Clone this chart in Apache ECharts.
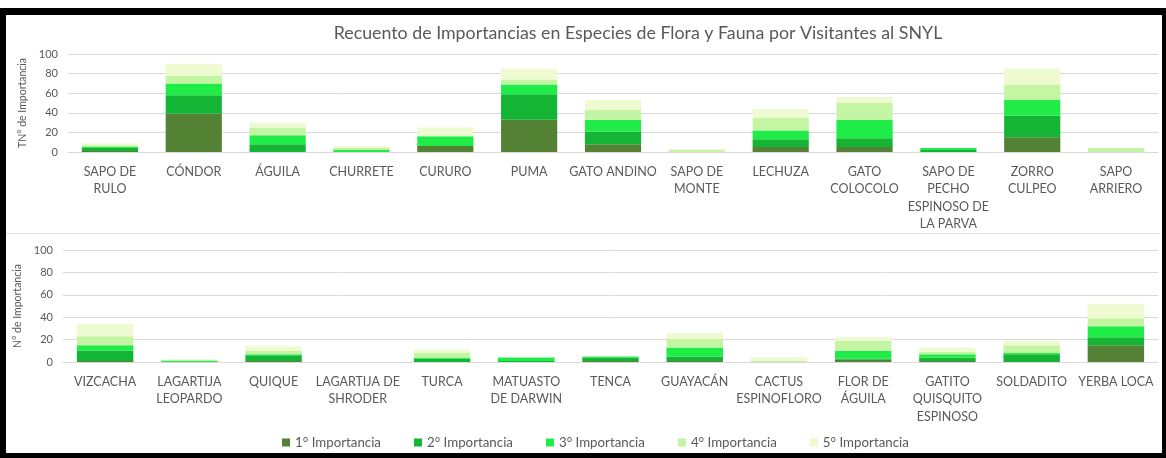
<!DOCTYPE html>
<html>
<head>
<meta charset="utf-8">
<script src="https://cdn.jsdelivr.net/npm/echarts@6/dist/echarts.min.js"></script>
<style>
html,body{margin:0;padding:0;background:#fff;}
#c{width:1166px;height:458px;}
</style>
</head>
<body>
<div id="c"></div>
<script>
const titleText = 'Recuento de Importancias en Especies de Flora y Fauna por Visitantes al SNYL';
const seriesNames = ['1° Importancia','2° Importancia','3° Importancia','4° Importancia','5° Importancia'];
const colors = ['#548235','#14b534','#20ec48','#c3f5a3','#eefad0'];

const topCategories = ['SAPO DE\nRULO','CÓNDOR','ÁGUILA','CHURRETE','CURURO','PUMA','GATO ANDINO','SAPO DE\nMONTE','LECHUZA','GATO\nCOLOCOLO','SAPO DE\nPECHO\nESPINOSO DE\nLA PARVA','ZORRO\nCULPEO','SAPO\nARRIERO'];
const top1 = [1,39,0,0,6,33,8,0,5,5,0,15,0];
const top2 = [3,19,8,0,0,26,13,0,8,9,2,22,0];
const top3 = [1,12,9,2,10,10,12,0,9,19,2,16,0];
const top4 = [2,8,8,2,0,5,10,2,13,17,0,16,4];
const top5 = [2,12,5,2,9,11,10,1,9,6,0,16,0];

const botCategories = ['VIZCACHA','LAGARTIJA\nLEOPARDO','QUIQUE','LAGARTIJA DE\nSHRODER','TURCA','MATUASTO\nDE DARWIN','TENCA','GUAYACÁN','CACTUS\nESPINOFLORO','FLOR DE\nÁGUILA','GATITO\nQUISQUITO\nESPINOSO','SOLDADITO','YERBA LOCA'];
const bot1 = [1,0,1,0,0,0,1,1,0,2,1,0,15];
const bot2 = [9,0,5,0,3,1,3,4,0,1,3,7,7];
const bot3 = [5,1,1,0,1,3,1,8,0,7,3,1,10];
const bot4 = [8,1,3,0,4,0,0,8,1,9,2,7,7];
const bot5 = [11,0,4,0,3,0,0,5,3,3,4,4,13];

const yTicks = {min:0, max:100, interval:20};
const topName = 'TN° de Importancia';
const botName = 'N° de Importancia';

const FONT = 'Lato';
const GREY = '#595959';
const topData = [top1,top2,top3,top4,top5];
const botData = [bot1,bot2,bot3,bot4,bot5];

const chart = echarts.init(document.getElementById('c'), null, {renderer:'canvas'});

function xAxis(gi, cats){
  return {type:'category', gridIndex:gi, data:cats,
    axisLine:{show:true, lineStyle:{color:'#d9d9d9'}}, axisTick:{show:false},
    axisLabel:{color:GREY, fontFamily:FONT, fontSize:12.5, lineHeight:17.5, margin:11, interval:0}};
}
function yAxis(gi, name, gap){
  return {type:'value', gridIndex:gi, min:yTicks.min, max:yTicks.max, interval:yTicks.interval,
    name:name, nameLocation:'middle', nameGap:gap, nameRotate:90,
    nameTextStyle:{color:GREY, fontFamily:FONT, fontSize:10.5},
    axisLine:{show:false}, axisTick:{show:false},
    splitLine:{lineStyle:{color:'#d9d9d9', width:1}},
    axisLabel:{color:GREY, fontFamily:FONT, fontSize:11, margin:10}};
}
const series = [];
seriesNames.forEach((n,i)=>{
  series.push({name:n, type:'bar', stack:'t', xAxisIndex:0, yAxisIndex:0, data:topData[i],
    itemStyle:{color:colors[i]}, barCategoryGap:'33%'});
});
seriesNames.forEach((n,i)=>{
  series.push({name:n, type:'bar', stack:'b', xAxisIndex:1, yAxisIndex:1, data:botData[i],
    itemStyle:{color:colors[i]}, barCategoryGap:'33%'});
});

chart.setOption({
  animation:false,
  backgroundColor:'#ffffff',
  title:{text:titleText, left:633, top:19, textAlign:'center',
    textStyle:{color:GREY, fontFamily:FONT, fontSize:17.8, fontWeight:'normal'}},
  legend:{data:seriesNames, left:277, top:431, itemWidth:8, itemHeight:8, itemGap:33,
    icon:'rect', textStyle:{color:GREY, fontFamily:FONT, fontSize:13.3}},
  grid:[
    {left:68, right:8, top:54, height:98},
    {left:63, right:8, top:250, height:112}
  ],
  xAxis:[xAxis(0, topCategories), xAxis(1, botCategories)],
  yAxis:[yAxis(0, topName, 36), yAxis(1, botName, 32)],
  series:series,
  graphic:[
    {type:'rect', shape:{x:6, y:233, width:1155, height:1}, style:{fill:'#e3e3e3'}, silent:true},
    {type:'rect', shape:{x:0, y:8, width:1166, height:7}, style:{fill:'#000'}, silent:true},
    {type:'rect', shape:{x:0, y:8, width:6, height:450}, style:{fill:'#000'}, silent:true},
    {type:'rect', shape:{x:0, y:453, width:1166, height:5}, style:{fill:'#000'}, silent:true},
    {type:'rect', shape:{x:1162, y:8, width:4, height:450}, style:{fill:'#000'}, silent:true}
  ]
});
</script>
</body>
</html>
